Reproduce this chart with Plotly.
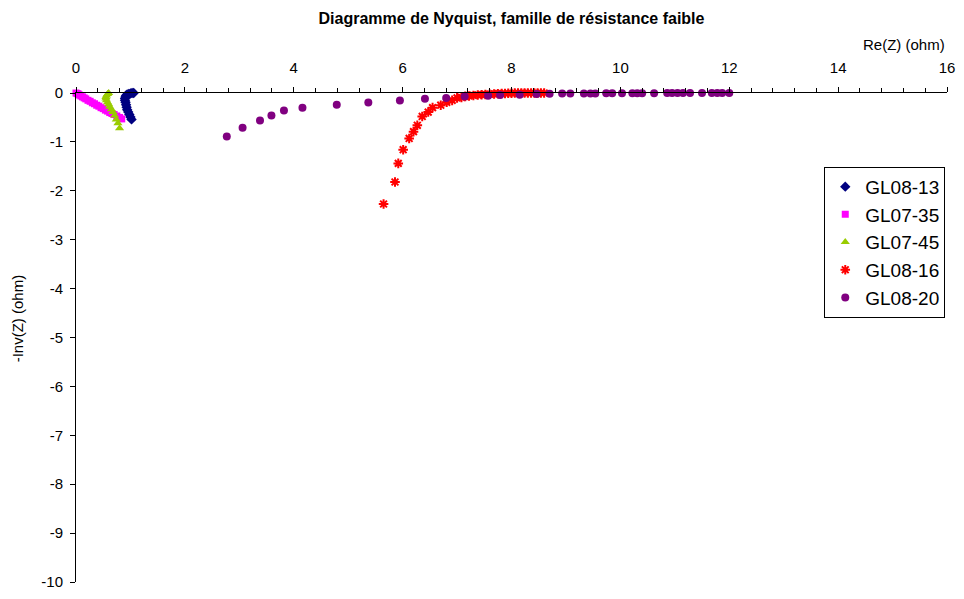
import plotly.graph_objects as go

# Nyquist data: real part (ohm) and -imaginary part (ohm) for each sample
re_gl08_13 = [1.15, 1.12, 1.09, 1.06, 1.03, 1.00, 0.97, 0.94, 0.92, 0.91,
              0.90, 0.90, 0.91, 0.92, 0.93, 0.94, 0.96, 0.98, 1.00, 1.02]
im_gl08_13 = [0.01, 0.01, 0.01, 0.00, 0.00, -0.01, -0.02, -0.03, -0.05, -0.08,
              -0.11, -0.15, -0.19, -0.24, -0.29, -0.34, -0.39, -0.44, -0.49, -0.54]

re_gl07_35 = [0.00, 0.02, 0.04, 0.06, 0.09, 0.12, 0.15, 0.18, 0.22, 0.26, 0.30, 0.34,
              0.38, 0.42, 0.46, 0.50, 0.54, 0.58, 0.62, 0.66, 0.70, 0.75, 0.80, 0.84]
im_gl07_35 = [0.00, -0.01, -0.02, -0.04, -0.06, -0.08, -0.10, -0.12, -0.15, -0.17, -0.20, -0.22,
              -0.25, -0.27, -0.30, -0.32, -0.35, -0.37, -0.40, -0.42, -0.44, -0.47, -0.50, -0.53]

re_gl07_45 = [0.60, 0.58, 0.56, 0.55, 0.55, 0.56, 0.58, 0.60, 0.62, 0.65, 0.68, 0.71, 0.74, 0.77, 0.80]
im_gl07_45 = [0.00, -0.02, -0.05, -0.08, -0.11, -0.15, -0.19, -0.23, -0.28, -0.33, -0.39, -0.46,
              -0.54, -0.62, -0.72]

re_gl08_16 = [5.65, 5.86, 5.92, 6.01, 6.12, 6.20, 6.27, 6.36, 6.47, 6.55, 6.70, 6.81, 6.91,
              7.00, 7.08, 7.15, 7.22, 7.30, 7.38, 7.45, 7.52, 7.60, 7.68, 7.75, 7.82, 7.88,
              7.94, 8.00, 8.06, 8.12, 8.18, 8.24, 8.30, 8.36, 8.42, 8.48, 8.54, 8.60]
im_gl08_16 = [-2.27, -1.82, -1.44, -1.16, -0.93, -0.79, -0.66, -0.48, -0.39, -0.30, -0.25, -0.19, -0.15,
              -0.10, -0.09, -0.07, -0.06, -0.05, -0.04, -0.035, -0.03, -0.025, -0.02, -0.015, -0.01, -0.01,
              -0.005, -0.005, 0.00, 0.00, 0.00, 0.00, 0.00, 0.00, 0.00, 0.00, 0.00, 0.00]

re_gl08_20 = [2.77, 3.06, 3.38, 3.59, 3.82, 4.16, 4.79, 5.37, 5.95, 6.41, 6.80, 7.14, 7.57,
              7.79, 8.15, 8.46, 8.70, 8.93, 9.08, 9.33, 9.45, 9.54, 9.74, 9.85, 10.03, 10.22,
              10.31, 10.40, 10.62, 10.86, 10.95, 11.05, 11.15, 11.28, 11.50, 11.68, 11.78,
              11.87, 12.00]
im_gl08_20 = [-0.89, -0.71, -0.56, -0.46, -0.36, -0.30, -0.24, -0.195, -0.155, -0.12, -0.10, -0.074, -0.054,
              -0.04, -0.034, -0.02, -0.015, -0.012, -0.01, -0.01, -0.008, -0.008, -0.006, -0.006, -0.005, -0.004,
              -0.004, -0.003, -0.003, -0.002, -0.002, -0.002, -0.001, -0.001, -0.001, 0.00, 0.00,
              0.00, 0.00]

# Vertical axis ticks, labelled with a plain hyphen minus
y_tick_values = [0, -1, -2, -3, -4, -5, -6, -7, -8, -9, -10]
y_tick_labels = ["0", "-1", "-2", "-3", "-4", "-5", "-6", "-7", "-8", "-9", "-10"]

series = [
    ("GL08-13", re_gl08_13, im_gl08_13, "diamond", "#000080", 8),
    ("GL07-35", re_gl07_35, im_gl07_35, "square", "#FF00FF", 7),
    ("GL07-45", re_gl07_45, im_gl07_45, "triangle-up", "#99CC00", 8),
    ("GL08-16", re_gl08_16, im_gl08_16, "asterisk-open", "#FF0000", 8),
    ("GL08-20", re_gl08_20, im_gl08_20, "circle", "#800080", 8),
]

fig = go.Figure()
for name, xs, ys, sym, col, size in series:
    marker = dict(symbol=sym, color=col, size=size, line=dict(width=0))
    if sym == "asterisk-open":
        marker["line"] = dict(color=col, width=2)
    fig.add_trace(go.Scatter(x=xs, y=ys, mode="markers", name=name,
                             marker=marker, cliponaxis=False))

axis_font = dict(family="Arial, Liberation Sans, sans-serif", size=15, color="black")

fig.update_layout(
    width=964, height=599, autosize=False,
    margin=dict(l=76, r=17, t=93, b=9),
    paper_bgcolor="white", plot_bgcolor="white",
    font=axis_font,
    showlegend=True,
    title=dict(text="<b>Diagramme de Nyquist, famille de résistance faible</b>",
               x=0.5, xref="paper", xanchor="center",
               y=1 - 18 / 599, yref="container", yanchor="middle",
               font=dict(family="Arial, Liberation Sans, sans-serif", size=16, color="black")),
    xaxis=dict(range=[0, 16], side="top", anchor="y", tick0=0, dtick=2,
               ticks="outside", ticklen=5, tickwidth=1, tickcolor="black",
               ticklabelstandoff=8,
               minor=dict(dtick=0.4, tick0=0, ticks="outside", ticklen=4, tickcolor="black"),
               showline=True, linecolor="black", linewidth=1,
               showgrid=False, zeroline=False, tickfont=axis_font),
    xaxis2=dict(range=[0, 16], overlaying="x", side="top", anchor="y", tick0=0, dtick=2,
                ticks="inside", ticklen=5, tickwidth=1, tickcolor="black",
                showticklabels=False, showline=False, showgrid=False, zeroline=False),
    yaxis=dict(range=[-10, 0], tickmode="array", tickvals=y_tick_values, ticktext=y_tick_labels,
               ticks="outside", ticklen=5, tickwidth=1, tickcolor="black",
               ticklabelstandoff=4,
               showline=True, linecolor="black", linewidth=1,
               showgrid=False, zeroline=False, tickfont=axis_font),
    legend=dict(x=0.998, xanchor="right", y=(590 - 168) / 497, yanchor="top",
                bordercolor="black", borderwidth=1, bgcolor="white",
                font=dict(family="Arial, Liberation Sans, sans-serif", size=19, color="black"),
                itemwidth=30),
    annotations=[
        dict(text="Re(Z) (ohm)", xref="paper", yref="paper", x=1.0, y=(590 - 44) / 497,
             xanchor="right", yanchor="middle", showarrow=False, font=axis_font),
        dict(text="-Inv(Z) (ohm)", xref="paper", yref="paper", x=(17 - 76) / 871,
             y=(590 - 322) / 497, textangle=-90, xanchor="center", yanchor="middle",
             showarrow=False, font=axis_font),
    ],
)

fig.write_html("out.html")
